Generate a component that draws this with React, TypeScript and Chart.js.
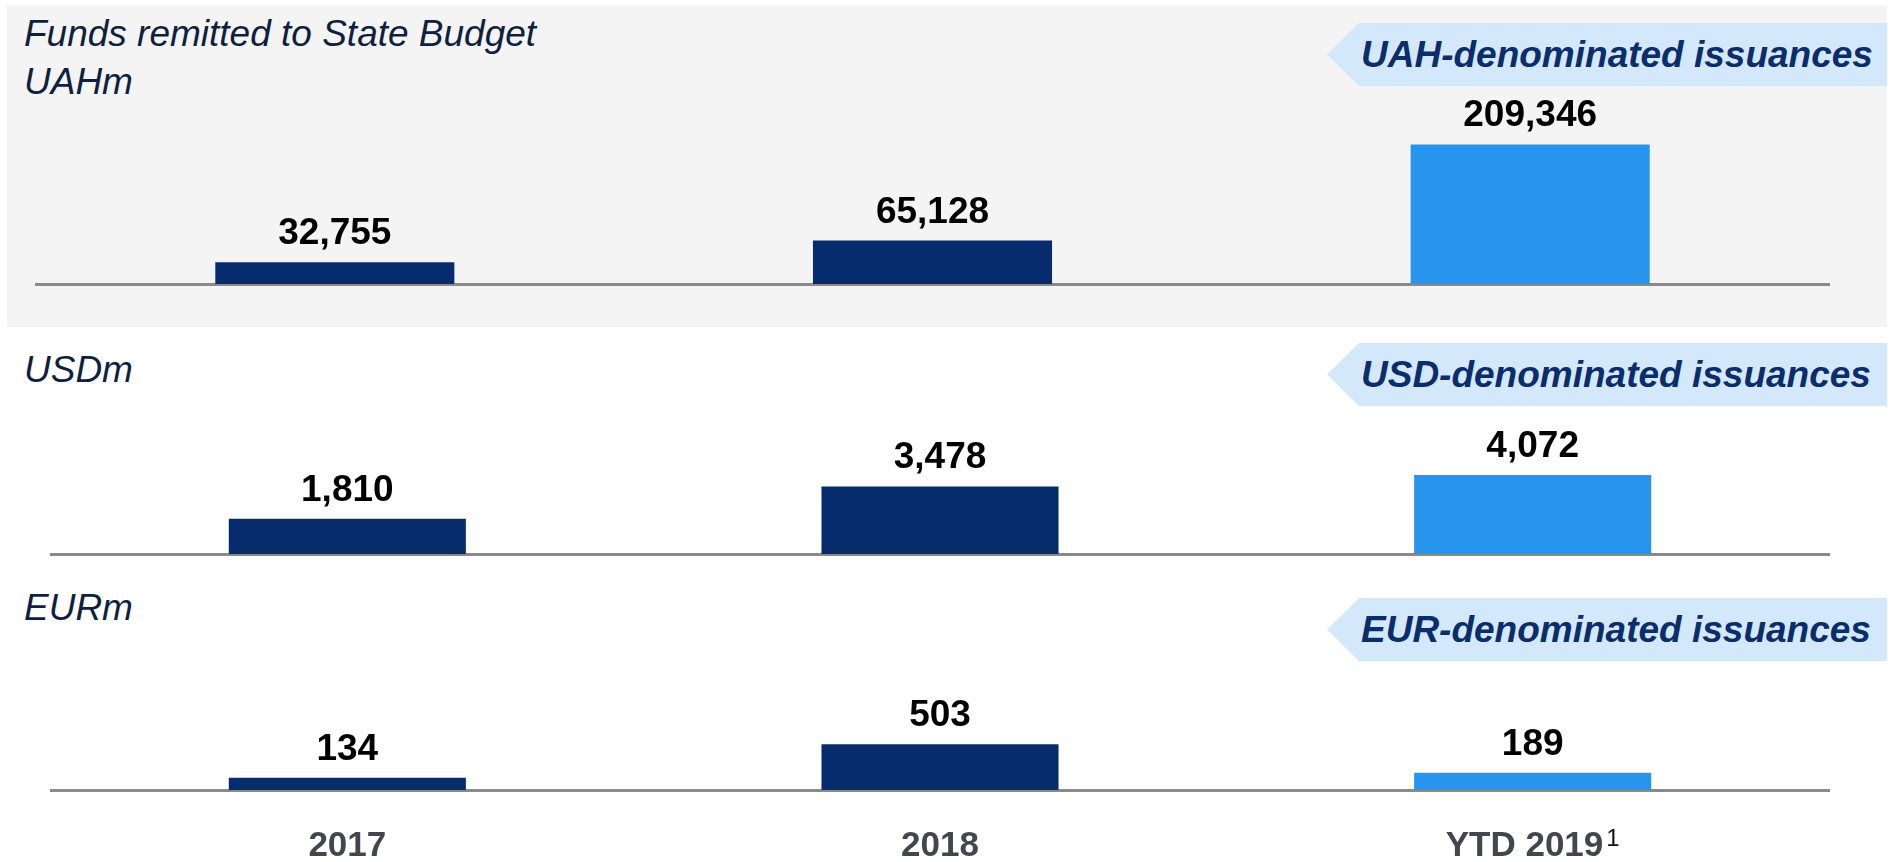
import React, { useEffect, useRef } from 'react';
import { Chart, registerables } from 'chart.js';

Chart.register(...registerables);

// ---- data ----
const categories = ['2017', '2018', 'YTD 2019'];
const footnotes = ['', '', '1'];
const uahValues = [32755, 65128, 209346];
const usdValues = [1810, 3478, 4072];
const eurValues = [134, 503, 189];
const barColors = ['#072c6e', '#072c6e', '#2794ee'];
const titleLine = 'Funds remitted to State Budget';
const unitLabels = ['UAHm', 'USDm', 'EURm'];
const badgeLabels = ['UAH-denominated issuances', 'USD-denominated issuances', 'EUR-denominated issuances'];

const FONT = '"Liberation Sans", Arial, Helvetica, sans-serif';

const valueLabelPlugin = {
  id: 'valueLabels',
  afterDatasetsDraw(chart: any) {
    const ctx = chart.ctx;
    const meta = chart.getDatasetMeta(0);
    const data = chart.data.datasets[0].data;
    ctx.save();
    ctx.font = `bold 37px ${FONT}`;
    ctx.fillStyle = '#000000';
    ctx.textAlign = 'center';
    ctx.textBaseline = 'alphabetic';
    meta.data.forEach((bar: any, i: number) => {
      ctx.fillText(Number(data[i]).toLocaleString('en-US'), bar.x, bar.y - 18);
    });
    ctx.restore();
  },
};

const categoryLabelPlugin = {
  id: 'categoryLabels',
  afterDraw(chart: any) {
    const ctx = chart.ctx;
    const xs = chart.scales.x;
    const y = chart.chartArea.bottom + 66;
    ctx.save();
    ctx.textAlign = 'left';
    ctx.textBaseline = 'alphabetic';
    (chart.data.labels as string[]).forEach((label, i) => {
      const cx = xs.getPixelForValue(i);
      ctx.font = `bold 35px ${FONT}`;
      const w = ctx.measureText(label).width;
      const note = footnotes[i];
      ctx.font = `24px ${FONT}`;
      const nw = note ? ctx.measureText(note).width + 3 : 0;
      const start = cx - (w + nw) / 2;
      ctx.font = `bold 35px ${FONT}`;
      ctx.fillStyle = '#45454f';
      ctx.fillText(label, start, y);
      if (note) {
        ctx.font = `24px ${FONT}`;
        ctx.fillStyle = '#111111';
        ctx.fillText(note, start + w + 3, y - 10);
      }
    });
    ctx.restore();
  },
};

type PanelProps = {
  values: number[];
  max: number;
  top: number;
  height: number;
  padding: { left: number; right: number; top: number; bottom: number };
  showCategories?: boolean;
};

function BarPanel({ values, max, top, height, padding, showCategories }: PanelProps) {
  const ref = useRef<HTMLCanvasElement | null>(null);
  useEffect(() => {
    if (!ref.current) return;
    const plugins: any[] = [valueLabelPlugin];
    if (showCategories) plugins.push(categoryLabelPlugin);
    const chart = new Chart(ref.current, {
      type: 'bar',
      data: {
        labels: categories,
        datasets: [
          {
            data: values,
            backgroundColor: barColors,
            borderWidth: 0,
            barPercentage: 0.4,
            categoryPercentage: 1,
          },
        ],
      },
      options: {
        responsive: false,
        animation: false,
        layout: { padding },
        plugins: { legend: { display: false }, tooltip: { enabled: false } },
        scales: {
          x: {
            display: true,
            z: 1,
            grid: { display: false, drawTicks: false },
            ticks: { display: false },
            border: { display: true, color: '#8a8a8a', width: 3 },
            afterFit: (s: any) => {
              s.height = 10;
            },
          },
          y: { display: false, min: 0, max },
        },
      },
      plugins,
    } as any);
    return () => chart.destroy();
  }, []);
  return (
    <canvas
      ref={ref}
      width={1893}
      height={height}
      style={{ position: 'absolute', left: 0, top, width: 1893, height }}
    />
  );
}

function Badge({ text, top }: { text: string; top: number }) {
  return (
    <div
      style={{
        position: 'absolute',
        left: 1327,
        top,
        width: 560,
        height: 63,
        background: '#d4e8fb',
        clipPath: 'polygon(32px 0, 100% 0, 100% 100%, 32px 100%, 0 50%)',
      }}
    >
      <div
        style={{
          position: 'absolute',
          left: 34,
          top: 0,
          lineHeight: '63px',
          fontFamily: FONT,
          fontWeight: 'bold',
          fontStyle: 'italic',
          fontSize: 37,
          color: '#0b2d6c',
          whiteSpace: 'nowrap',
        }}
      >
        {text}
      </div>
    </div>
  );
}

function Label({ text, baseline }: { text: string; baseline: number }) {
  return (
    <div
      style={{
        position: 'absolute',
        left: 24,
        top: baseline - 31.4,
        lineHeight: '37px',
        fontFamily: FONT,
        fontStyle: 'italic',
        fontSize: 37,
        color: '#0f1f42',
        whiteSpace: 'nowrap',
      }}
    >
      {text}
    </div>
  );
}

export default function App() {
  return (
    <div
      style={{
        position: 'absolute',
        left: 0,
        top: 0,
        width: 1893,
        height: 862,
        background: '#ffffff',
        overflow: 'hidden',
      }}
    >
      <div style={{ position: 'absolute', left: 7, top: 5, width: 1880, height: 322, background: '#f4f4f4' }} />
      <Label text={titleLine} baseline={46} />
      <Label text={unitLabels[0]} baseline={94} />
      <Label text={unitLabels[1]} baseline={382} />
      <Label text={unitLabels[2]} baseline={620} />
      <Badge text={badgeLabels[0]} top={23} />
      <Badge text={badgeLabels[1]} top={343} />
      <Badge text={badgeLabels[2]} top={598} />
      <BarPanel
        values={uahValues}
        max={270000}
        top={0}
        height={300}
        padding={{ left: 36, right: 64, top: 104, bottom: 6 }}
      />
      <BarPanel
        values={usdValues}
        max={5150}
        top={330}
        height={240}
        padding={{ left: 51, right: 64, top: 124, bottom: 6 }}
      />
      <BarPanel
        values={eurValues}
        max={660}
        top={600}
        height={262}
        padding={{ left: 51, right: 64, top: 130, bottom: 62 }}
        showCategories
      />
    </div>
  );
}
